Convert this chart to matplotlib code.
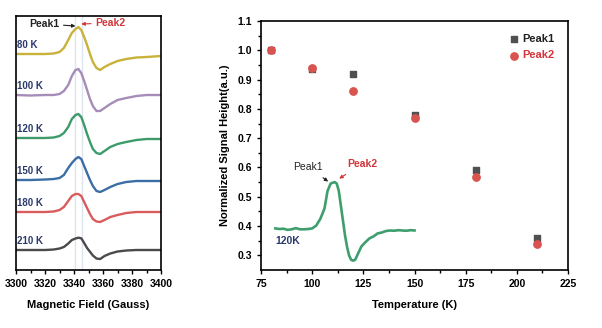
import numpy as np
import matplotlib
matplotlib.use("Agg")
import matplotlib.pyplot as plt

plt.rcParams['font.family'] = ['Liberation Sans', 'DejaVu Sans']
plt.rcParams['font.weight'] = 'bold'

# EPR spectra, stacked (arbitrary offset units)
field = [3300, 3310, 3320, 3326, 3330, 3333, 3336, 3338.5, 3341, 3343,
         3345, 3347, 3349, 3351, 3353, 3355.5, 3358, 3361, 3365, 3370,
         3376, 3383, 3390, 3400]
spectra = {
    '80 K':  [216, 216, 216, 216.5, 218, 222, 230, 237, 241, 243, 240, 233,
              225, 216, 208, 202, 200, 203, 206, 209, 211, 212.5, 213, 214],
    '100 K': [175, 174.5, 175, 175, 176, 179, 185, 194, 200, 201, 197, 189,
              180, 171, 164, 159, 159, 162, 166, 170, 172, 174, 175, 175],
    '120 K': [132, 132, 132, 132.5, 134, 137, 143, 151, 155, 156, 153, 145,
              136, 128, 121, 117, 116, 119, 123, 126, 128, 130, 131, 131],
    '150 K': [90, 90, 90.5, 91, 92, 95, 102, 107, 111, 113, 111, 104,
              97, 90, 84, 79, 78, 80, 83, 86, 88, 89, 89, 89],
    '180 K': [58, 58, 58, 58.5, 60, 63, 69, 74, 76, 76, 74, 68,
              62, 56, 51, 48.5, 48, 50, 53, 55, 57, 58, 58, 58],
    '210 K': [20, 20, 20, 20.5, 21.5, 23, 26.5, 30, 31.5, 32.3, 31.7, 27,
              22, 18.3, 14.5, 11.5, 11, 14, 16.5, 18.5, 19.5, 20, 20, 20],
}
spec_colors = ['#c9b23a', '#a68cb8', '#3d9b6b', '#3b6ea5', '#d95c5c', '#4a4a4a']

# normalized signal heights
temps = [80, 100, 120, 150, 180, 210]
peak1 = [1.0, 0.935, 0.92, 0.78, 0.59, 0.36]
peak2 = [1.0, 0.94, 0.86, 0.77, 0.567, 0.34]

# 120 K spectrum drawn on the temperature axes
inset_x = [82, 84, 86, 88, 90, 92, 94, 96, 98, 100, 102, 104, 106, 107.5,
           109, 110, 111, 112, 113, 114, 115, 116, 117, 118, 119, 120, 121,
           122, 123, 124, 126, 128, 130, 132, 134, 136, 138, 140, 142, 144,
           146, 148, 150]
inset_y = [.392, .390, .391, .387, .389, .393, .389, .389, .390, .392, .402,
           .425, .46, .52, .545, .548, .550, .545, .52, .47, .42, .37, .33,
           .30, .285, .282, .285, .30, .315, .33, .345, .358, .365, .375,
           .378, .383, .385, .384, .386, .385, .384, .386, .385]

navy = '#2b3a6e'
red = '#d2363a'

fig = plt.figure(figsize=(6.02, 3.28), dpi=100)

# ---- left panel: stacked spectra ----
ax1 = fig.add_axes([0.0266, 0.1768, 0.2409, 0.7744])
for x in (3341, 3345.5):
    ax1.axvline(x, color='#dfe5ee', lw=1.0, zorder=0)
for (label, vals), c in zip(spectra.items(), spec_colors):
    ax1.plot(field, vals, color=c, lw=1.7)
    ax1.text(3301, vals[0] + 4, label, color=navy, fontsize=7,
             fontweight='bold', va='bottom', ha='left')
ax1.set_xlim(3300, 3400)
ax1.set_ylim(0, 254)
ax1.set_yticks([])
ax1.set_xticks(np.arange(3300, 3401, 20))
ax1.set_xticks(np.arange(3310, 3400, 20), minor=True)
ax1.tick_params(axis='x', labelsize=7.5, length=3, width=1, direction='out')
ax1.tick_params(axis='x', which='minor', length=2, width=1)
ax1.set_xlabel('Magnetic Field (Gauss)', fontsize=8, fontweight='bold',
               labelpad=8)
for s in ax1.spines.values():
    s.set_linewidth(1.2)

ax1.annotate('Peak1', xy=(3341, 244), xytext=(3319.5, 246),
             fontsize=7.5, color='#222222', ha='center', va='center',
             arrowprops=dict(arrowstyle='-|>', color='#222222', lw=0.8,
                             mutation_scale=5, shrinkA=1, shrinkB=0))
ax1.annotate('Peak2', xy=(3345, 246), xytext=(3365, 247),
             fontsize=7.5, color=red, ha='center', va='center',
             arrowprops=dict(arrowstyle='-|>', color=red, lw=0.8,
                             mutation_scale=5, shrinkA=1, shrinkB=0))

# ---- right panel: signal height vs temperature ----
ax2 = fig.add_axes([0.4336, 0.1768, 0.510, 0.759])
ax2.plot(inset_x, inset_y, color='#3f9e6e', lw=1.9)
ax2.scatter(temps, peak1, marker='s', s=24, color='#505050', label='Peak1',
            zorder=3)
ax2.scatter(temps, peak2, marker='o', s=28, color='#d9534f', label='Peak2',
            zorder=4)
ax2.set_xlim(75, 225)
ax2.set_ylim(0.25, 1.1)
ax2.set_xticks(np.arange(75, 226, 25))
ax2.set_xticks(np.arange(87.5, 225, 25), minor=True)
ax2.set_yticks(np.arange(0.3, 1.101, 0.1))
ax2.set_yticks(np.arange(0.35, 1.1, 0.1), minor=True)
ax2.yaxis.set_major_formatter(matplotlib.ticker.FormatStrFormatter('%.1f'))
ax2.tick_params(labelsize=7.5, length=3, width=1, direction='out')
ax2.tick_params(which='minor', length=2, width=1, direction='out')
ax2.set_xlabel('Temperature (K)', fontsize=8, fontweight='bold', labelpad=8)
ax2.set_ylabel('Normalized Signal Height(a.u.)', fontsize=8,
               fontweight='bold', labelpad=5)
for s in ax2.spines.values():
    s.set_linewidth(1.2)

leg = ax2.legend(loc='upper right', bbox_to_anchor=(0.98, 0.98),
                 frameon=False, fontsize=8, handletextpad=0.1,
                 labelspacing=0.6, handlelength=1.2, borderaxespad=0.3)
for txt, c in zip(leg.get_texts(), ['#222222', red]):
    txt.set_color(c)
    txt.set_fontweight('bold')

ax2.annotate('Peak1', xy=(107.8, 0.552), xytext=(98, 0.603),
             fontsize=7.5, color='#222222', ha='center', va='center',
             fontweight='normal',
             arrowprops=dict(arrowstyle='-|>', color='#222222', lw=0.8,
                             mutation_scale=5, shrinkA=4, shrinkB=0))
ax2.annotate('Peak2', xy=(113.2, 0.562), xytext=(124.5, 0.613),
             fontsize=7.5, color=red, ha='center', va='center',
             arrowprops=dict(arrowstyle='-|>', color=red, lw=0.8,
                             mutation_scale=5, shrinkA=4, shrinkB=0))
ax2.text(88.2, 0.349, '120K', fontsize=7.5, color=navy, ha='center',
         va='center', fontweight='bold')

fig.savefig('out.png', dpi=100)
